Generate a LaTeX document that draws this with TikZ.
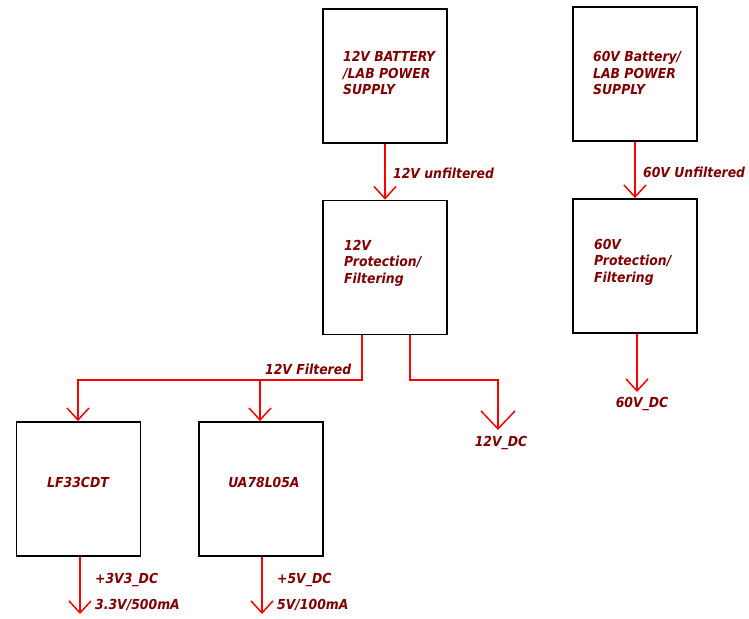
\documentclass[tikz,border=0pt]{standalone}
\usepackage{fontspec}
\newfontfamily\lblfont{DejaVu Sans Condensed}
\usetikzlibrary{arrows.meta}
\definecolor{wirered}{HTML}{FF0000}
\definecolor{txtred}{HTML}{840000}
\tikzset{
  box/.style={draw=black, line width=1.8pt, fill=white, minimum width=124pt, minimum height=134pt, inner sep=0pt},
  lbl/.style={text=txtred, font=\lblfont\bfseries\itshape\fontsize{13.8}{16.5}\selectfont, inner sep=0pt, align=left},
  wire/.style={draw=wirered, line width=1.5pt},
  tipsmall/.style={-{Straight Barb[length=12pt,width=22pt,line width=1.5pt]}},
  tipbig/.style={-{Straight Barb[length=18pt,width=34pt,line width=1.5pt]}}
}
\begin{document}
\begin{tikzpicture}[x=1pt,y=-1pt]
\useasboundingbox[fill=white] (0,0) rectangle (749,618);
% boxes
\node[box] (bat12) at (385,76) {};
\node[box] (bat60) at (635,74) {};
\node[box] (prot12) at (385,267.5) {};
\node[box] (prot60) at (635,266) {};
\node[box] (lf) at (78.5,489) {};
\node[box] (ua) at (261,489) {};
% box texts
\node[lbl, anchor=west] (tbat12) at (343,73) {12V BATTERY\\/LAB POWER\\SUPPLY};
\node[lbl, anchor=west] (tbat60) at (593,73) {60V Battery/\\LAB POWER\\SUPPLY};
\node[lbl, anchor=west] (tprot12) at (344,263) {12V\\Protection/\\Filtering};
\node[lbl, anchor=west] (tprot60) at (594,262) {60V\\Protection/\\Filtering};
\node[lbl] (tlf) at (78,482) {LF33CDT};
\node[lbl] (tua) at (264,482) {UA78L05A};
% coordinates
\coordinate (j1) at (362,380);
\coordinate (j2) at (260,380);
\coordinate (c1) at (78,380);
\coordinate (j3) at (410,380);
\coordinate (c2) at (498,380);
\coordinate (dc12) at (498,430);
\coordinate (dc60) at (637,392);
\coordinate (dc33) at (80,614);
\coordinate (dc5) at (262,614);
% wires
\draw[wire,tipsmall] (bat12.south) -- (prot12.north);
\draw[wire,tipsmall] (bat60.south) -- (prot60.north);
\draw[wire,tipsmall] (prot12.south -| j1) -- (j1) -- (c1) -- (lf.north -| c1);
\draw[wire,tipsmall] (j2) -- (ua.north -| j2);
\draw[wire,tipbig] (prot12.south -| j3) -- (j3) -- (c2) -- (dc12);
\draw[wire,tipsmall] (prot60.south -| dc60) -- (dc60);
\draw[wire,tipsmall] (lf.south -| dc33) -- (dc33);
\draw[wire,tipsmall] (ua.south -| dc5) -- (dc5);
% wire labels
\node[lbl, anchor=west] (l12u) at (393,173) {12V unfiltered};
\node[lbl, anchor=west] (l60u) at (643,172) {60V Unfiltered};
\node[lbl, anchor=west] (l12f) at (265,369) {12V Filtered};
\node[lbl] (l12dc) at (501,443) {12V\_DC};
\node[lbl] (l60dc) at (642,404) {60V\_DC};
\node[lbl, anchor=west] (l33) at (95,580) {+3V3\_DC};
\node[lbl, anchor=west] (l33b) at (95,605) {3.3V/500mA};
\node[lbl, anchor=west] (l5) at (277,580) {+5V\_DC};
\node[lbl, anchor=west] (l5b) at (277,605) {5V/100mA};
\end{tikzpicture}
\end{document}
